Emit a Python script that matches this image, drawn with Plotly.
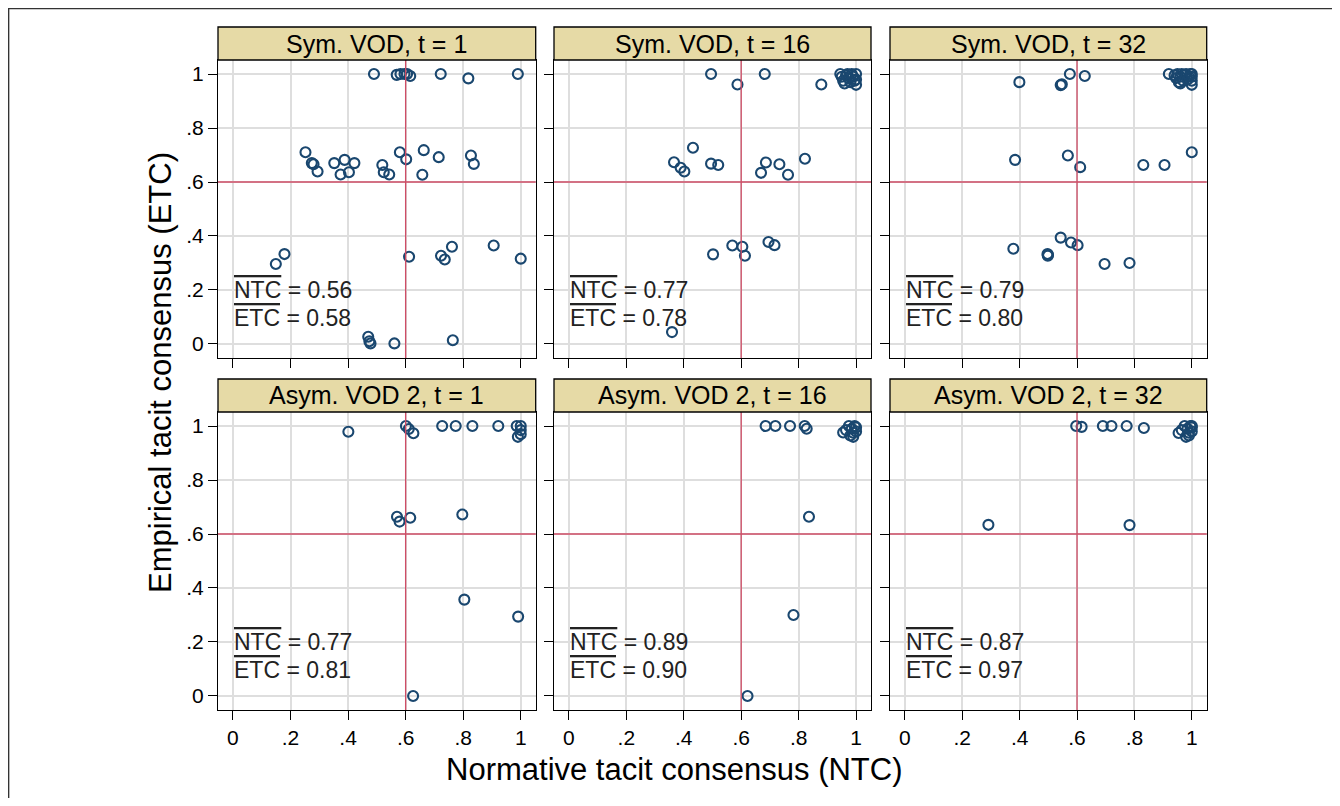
import plotly.graph_objects as go
from plotly.subplots import make_subplots

# ---------------- data ----------------
panel_titles = ["Sym. VOD, t = 1", "Sym. VOD, t = 16", "Sym. VOD, t = 32",
                "Asym. VOD 2, t = 1", "Asym. VOD 2, t = 16", "Asym. VOD 2, t = 32"]

ntc_mean = ["0.56", "0.77", "0.79", "0.77", "0.89", "0.87"]
etc_mean = ["0.58", "0.78", "0.80", "0.81", "0.90", "0.97"]

# Panel 1: Sym. VOD, t = 1
ntc_p1 = [0.490, 0.569, 0.582, 0.596, 0.605, 0.616, 0.722, 0.818, 0.990,
          0.252, 0.274, 0.280, 0.294, 0.352, 0.374, 0.388, 0.403, 0.422,
          0.519, 0.524, 0.543, 0.580, 0.602, 0.658, 0.663, 0.715, 0.827, 0.837,
          0.149, 0.179, 0.612, 0.723, 0.736, 0.761, 0.906, 1.000,
          0.470, 0.474, 0.478, 0.561, 0.764]
etc_p1 = [1.000, 0.997, 1.000, 1.000, 1.000, 0.993, 1.000, 0.984, 1.000,
          0.710, 0.670, 0.666, 0.639, 0.670, 0.628, 0.682, 0.636, 0.670,
          0.663, 0.636, 0.628, 0.710, 0.684, 0.627, 0.718, 0.692, 0.698, 0.667,
          0.296, 0.333, 0.323, 0.327, 0.313, 0.360, 0.365, 0.316,
          0.027, 0.010, 0.002, 0.002, 0.014]

# Panel 2: Sym. VOD, t = 16
ntc_p2 = [0.495, 0.587, 0.682, 0.879,
          0.945, 0.950, 0.955, 0.960, 0.965, 0.970, 0.975, 0.980, 0.985, 0.990,
          0.995, 1.000, 1.000, 1.000,
          0.432, 0.366, 0.389, 0.402, 0.495, 0.520, 0.686, 0.669, 0.733, 0.763, 0.822,
          0.502, 0.569, 0.604, 0.613, 0.695, 0.716, 0.359]
etc_p2 = [1.000, 0.961, 1.000, 0.961,
          1.000, 0.990, 0.975, 0.965, 0.995, 1.000, 0.985, 0.970, 1.000, 0.990,
          0.975, 0.960, 0.980, 1.000,
          0.727, 0.673, 0.653, 0.639, 0.668, 0.663, 0.672, 0.634, 0.666, 0.627, 0.686,
          0.332, 0.365, 0.360, 0.327, 0.378, 0.366, 0.044]

# Panel 3: Sym. VOD, t = 32
ntc_p3 = [0.399, 0.543, 0.547, 0.575, 0.627,
          0.920, 0.940, 0.945, 0.950, 0.955, 0.960, 0.960, 0.965, 0.970, 0.975,
          0.980, 0.985, 0.990, 0.995, 1.000, 1.000, 1.000, 1.000,
          0.384, 0.568, 0.611, 0.831, 0.905, 1.000,
          0.543, 0.579, 0.602, 0.378, 0.497, 0.499, 0.498, 0.696, 0.783]
etc_p3 = [0.970, 0.959, 0.962, 1.000, 0.993,
          1.000, 0.995, 0.985, 1.000, 0.970, 0.990, 0.965, 1.000, 0.975, 0.995,
          1.000, 0.980, 0.990, 1.000, 0.960, 0.975, 0.990, 1.000,
          0.682, 0.698, 0.655, 0.663, 0.663, 0.710,
          0.394, 0.376, 0.366, 0.353, 0.333, 0.330, 0.327, 0.296, 0.300]

# Panel 4: Asym. VOD 2, t = 1
ntc_p4 = [0.401, 0.601, 0.611, 0.627, 0.727, 0.774, 0.832, 0.922, 0.986,
          1.000, 1.000, 0.990, 1.000,
          0.570, 0.579, 0.616, 0.797,
          0.804, 0.991, 0.626]
etc_p4 = [0.979, 1.000, 0.989, 0.973, 1.000, 1.000, 1.000, 1.000, 1.000,
          1.000, 0.985, 0.960, 0.970,
          0.664, 0.646, 0.660, 0.672,
          0.357, 0.294, 0.000]

# Panel 5: Asym. VOD 2, t = 16
ntc_p5 = [0.685, 0.719, 0.770, 0.821, 0.828,
          0.955, 0.965, 0.975, 0.985, 0.990, 0.995, 1.000, 1.000, 0.990, 0.980,
          0.836, 0.782, 0.622]
etc_p5 = [1.000, 1.000, 1.000, 1.000, 0.990,
          0.976, 0.985, 1.000, 0.990, 0.960, 1.000, 0.980, 0.995, 0.975, 0.965,
          0.664, 0.300, 0.000]

# Panel 6: Asym. VOD 2, t = 32
ntc_p6 = [0.597, 0.616, 0.690, 0.720, 0.773, 0.833,
          0.954, 0.965, 0.975, 0.985, 0.990, 0.995, 1.000, 1.000, 0.990, 0.980, 1.000,
          0.291, 0.783]
etc_p6 = [1.000, 0.997, 1.000, 1.000, 1.000, 0.993,
          0.974, 0.985, 1.000, 0.990, 0.965, 1.000, 0.980, 0.995, 0.975, 0.960, 1.000,
          0.634, 0.633]

panels_x = [ntc_p1, ntc_p2, ntc_p3, ntc_p4, ntc_p5, ntc_p6]
panels_y = [etc_p1, etc_p2, etc_p3, etc_p4, etc_p5, etc_p6]

tick_vals = [0, 0.2, 0.4, 0.6, 0.8, 1]
tick_text = ["0", ".2", ".4", ".6", ".8", "1"]
ref_line = 0.6

# ---------------- styling ----------------
OFF = 8                       # page body margin
W, H = 1340 - OFF, 806 - 2 * OFF
FONT = "Liberation Sans, Arial, sans-serif"
NAVY = "#1a476f"
RED = "#cf4d66"
GRID = "#dedede"
STRIP = "#e6daa6"

col_px = [(218, 535.7), (554, 871), (890, 1206.7)]
row_px = [(60, 358), (412, 710)]


def fx(p):
    return (p - OFF) / W


def fy(p):
    return 1 - (p - OFF) / H


fig = make_subplots(rows=2, cols=3)

for i in range(6):
    r, c = i // 3 + 1, i % 3 + 1
    fig.add_trace(go.Scatter(
        x=panels_x[i], y=panels_y[i], mode="markers",
        marker=dict(symbol="circle-open", size=10, color=NAVY,
                    line=dict(width=2.1, color=NAVY)),
        showlegend=False, hoverinfo="x+y"), row=r, col=c)

for i in range(6):
    r, c = i // 3, i % 3
    n = "" if i == 0 else str(i + 1)
    x0, x1 = col_px[c]
    y0, y1 = row_px[r]
    fig.layout["xaxis" + n].update(
        domain=[fx(x0), fx(x1)], range=[-0.052, 1.052],
        tickvals=tick_vals, ticktext=tick_text, showticklabels=(r == 1),
        ticks="outside", ticklen=9, tickcolor="black", tickwidth=1.2,
        showgrid=True, gridcolor=GRID, gridwidth=1.6, zeroline=False,
        showline=True, mirror=True, linecolor="black", linewidth=1.3,
        tickfont=dict(family=FONT, size=21, color="black"))
    fig.layout["yaxis" + n].update(
        domain=[fy(y1), fy(y0)], range=[-0.052, 1.052],
        tickvals=tick_vals, ticktext=tick_text, showticklabels=(c == 0),
        ticks="outside", ticklen=9, tickcolor="black", tickwidth=1.2,
        showgrid=True, gridcolor=GRID, gridwidth=1.6, zeroline=False,
        showline=True, mirror=True, linecolor="black", linewidth=1.3,
        tickfont=dict(family=FONT, size=21, color="black"))
    xr, yr = "x" + n, "y" + n
    # reference lines
    fig.add_shape(type="line", xref=xr, yref=yr + " domain",
                  x0=ref_line, x1=ref_line, y0=0, y1=1,
                  line=dict(color=RED, width=1.3), layer="above")
    fig.add_shape(type="line", xref=xr + " domain", yref=yr,
                  x0=0, x1=1, y0=ref_line, y1=ref_line,
                  line=dict(color=RED, width=1.3), layer="above")
    # strip header
    fig.add_shape(type="rect", xref=xr + " domain", yref=yr + " domain",
                  x0=0, x1=1, y0=1, y1=1 + 33 / (y1 - y0),
                  fillcolor=STRIP, line=dict(color="black", width=1.3))
    fig.add_annotation(text=panel_titles[i], xref=xr + " domain", yref=yr + " domain",
                       x=0.5, y=1 + 16.5 / (y1 - y0), showarrow=False,
                       xanchor="center", yanchor="middle",
                       font=dict(family=FONT, size=25, color="black"))
    # mean annotations
    fig.add_annotation(text="<span style='text-decoration:overline'>NTC</span> = " + ntc_mean[i],
                       xref=xr, yref=yr, x=-0.003, y=0.2, showarrow=False,
                       xanchor="left", yanchor="middle",
                       font=dict(family=FONT, size=23, color="#222222"))
    fig.add_annotation(text="<span style='text-decoration:overline'>ETC</span> = " + etc_mean[i],
                       xref=xr, yref=yr, x=-0.003, y=0.097, showarrow=False,
                       xanchor="left", yanchor="middle",
                       font=dict(family=FONT, size=23, color="#222222"))

# axis titles
fig.add_annotation(text="Normative tacit consensus (NTC)", xref="paper", yref="paper",
                   x=fx(675), y=fy(769), showarrow=False, xanchor="center", yanchor="middle",
                   font=dict(family=FONT, size=31, color="black"))
fig.add_annotation(text="Empirical tacit consensus (ETC)", xref="paper", yref="paper",
                   x=fx(160), y=fy(373), showarrow=False, xanchor="center", yanchor="middle",
                   textangle=-90, font=dict(family=FONT, size=31, color="black"))

# outer frame
fig.add_shape(type="rect", xref="paper", yref="paper",
              x0=0.6 / W, x1=1.02, y0=-0.02, y1=1 - 0.6 / H,
              line=dict(color="#333333", width=1.5), fillcolor="rgba(0,0,0,0)")

fig.update_layout(width=W, height=H, margin=dict(l=0, r=0, t=0, b=0),
                  paper_bgcolor="white", plot_bgcolor="white",
                  font=dict(family=FONT))

fig.write_html("out.html")
